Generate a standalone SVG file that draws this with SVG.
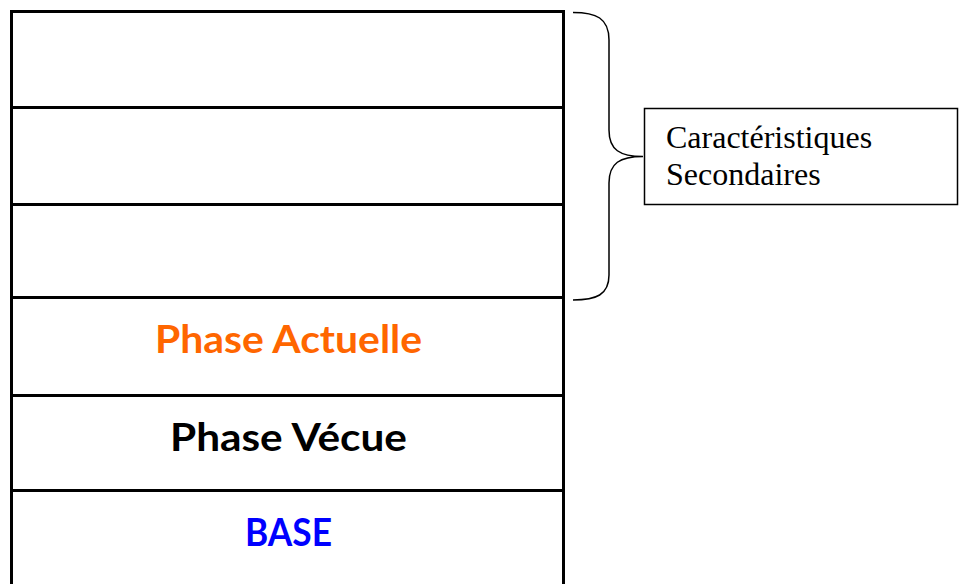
<svg xmlns="http://www.w3.org/2000/svg" width="966" height="584" viewBox="0 0 966 584">
  <style>
    .frame { fill: none; stroke: #000; stroke-width: 3; }
    .thin { fill: none; stroke: #000; stroke-width: 1.5; }
    .label { font-family: "Century Gothic", "Lato", "Liberation Sans", sans-serif; font-weight: bold; font-size: 39px; text-anchor: middle; }
    .serif { font-family: "Liberation Serif", "Times New Roman", serif; font-size: 32px; fill: #000; }
  </style>
  <rect width="966" height="584" fill="#fff"/>
  <g id="stack">
    <path class="frame" d="M11.5,600 L11.5,11.5 L563.5,11.5 L563.5,600"/>
    <line class="frame" x1="11.5" y1="107.5" x2="563.5" y2="107.5"/>
    <line class="frame" x1="11.5" y1="204.5" x2="563.5" y2="204.5"/>
    <line class="frame" x1="11.5" y1="297.5" x2="563.5" y2="297.5"/>
    <line class="frame" x1="11.5" y1="395.5" x2="563.5" y2="395.5"/>
    <line class="frame" x1="11.5" y1="490.5" x2="563.5" y2="490.5"/>
  </g>
  <g id="phase-actuelle">
    <text class="label" x="288.5" y="353" fill="#FF6600" textLength="267" lengthAdjust="spacingAndGlyphs">Phase Actuelle</text>
  </g>
  <g id="phase-vecue">
    <text class="label" x="288.5" y="451" fill="#000" textLength="237" lengthAdjust="spacingAndGlyphs">Phase Vécue</text>
  </g>
  <g id="base">
    <text class="label" x="288.5" y="546" fill="#0000FF" textLength="87" lengthAdjust="spacingAndGlyphs">BASE</text>
  </g>
  <g id="connectors">
    <path class="thin" d="M573,12.5 C596,12.5 609,18 609,40 L609,130 C609,150 620,156.5 643,156.5 C620,156.5 609,163 609,183 L609,275 C609,295 596,300 573,300"/>
  </g>
  <g id="caracteristiques">
    <rect class="thin" x="644.5" y="108.5" width="313" height="96"/>
    <text class="serif" x="666" y="148">Caractéristiques</text>
    <text class="serif" x="666" y="185">Secondaires</text>
  </g>
</svg>
